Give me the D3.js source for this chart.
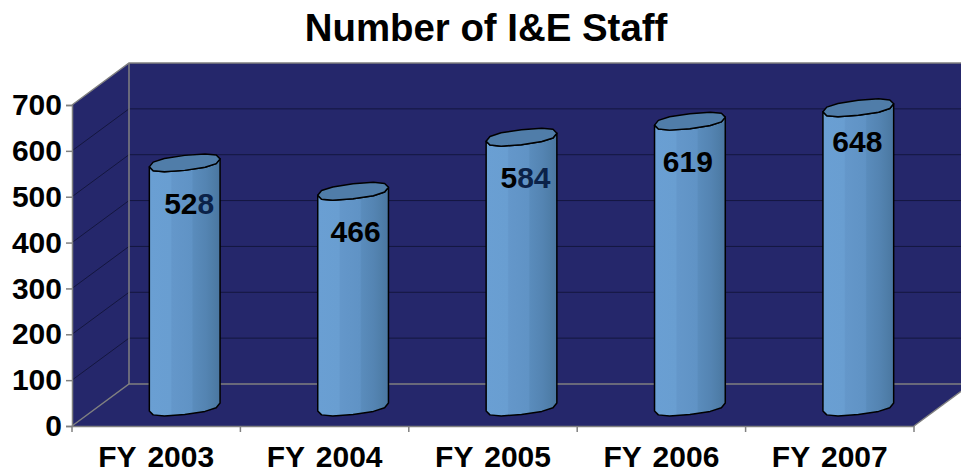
<!DOCTYPE html>
<html>
<head>
<meta charset="utf-8">
<script src="https://cdn.jsdelivr.net/npm/d3@7"></script>
<style>
  html, body { margin: 0; padding: 0; background: #fff; overflow: hidden; }
  text { font-family: "Liberation Sans", Arial, sans-serif; font-weight: bold; fill: #000; }
</style>
</head>
<body>
<svg id="chart" width="961" height="472"></svg>
<script>
const years = [ "FY 2003", "FY 2004", "FY 2005", "FY 2006", "FY 2007" ];
const staff = [ 528, 466, 584, 619, 648 ];
const yTicks = [ 0, 100, 200, 300, 400, 500, 600, 700 ];

const titleText = "Number of I&E Staff";

const wallColor = "#25276b";
const gridColor = "#14163f";
const edgeColor = "#808080";
const depthX = 57, depthY = -42;

// Labels do not sit at the same spot on every cylinder, some digits are tinted
const labelDx = [ 4.5, 2.5, 4, -2, -1 ];
const labelDy = [ 0, 0, 0, 0, -7 ];
const navyFrom = [ 2, 9, 1, 9, 9 ];

const svg = d3.select( "#chart" );

const x = d3.scaleBand().domain( years ).range( [ 72, 914 ] );
const y = d3.scaleLinear().domain( [ 0, 700 ] ).range( [ 426, 105 ] );

const x0 = x.range()[ 0 ], x1 = x.range()[ 1 ];
const y0 = y( 0 ), yTop = y( 700 );

// Gradient along the cylinder, in soft vertical bands
const defs = svg.append( "defs" );
const grad = defs.append( "linearGradient" ).attr( "id", "cyl" );
[ [ 0, "#6a9fd3" ], [ .3, "#699ed1" ], [ .32, "#6497ca" ], [ .6, "#6093c5" ], [ .62, "#5a8cbc" ], [ .8, "#5484b2" ], [ .9, "#4f7ea9" ], [ 1, "#4a76a0" ] ]
  .forEach( s => grad.append( "stop" ).attr( "offset", s[ 0 ] ).attr( "stop-color", s[ 1 ] ) );

// Walls and floor
const poly = pts => "M" + pts.map( p => p.join( "," ) ).join( "L" ) + "Z";

svg.append( "path" )
  .attr( "d", poly( [ [ x0, yTop ], [ x0 + depthX, yTop + depthY ], [ x1 + depthX, yTop + depthY ], [ x1 + depthX, y0 + depthY ], [ x1, y0 ], [ x0, y0 ] ] ) )
  .attr( "fill", wallColor );

// Gridlines on the back and side wall
const grid = svg.append( "g" );

grid.selectAll( "path.grid" )
  .data( yTicks.slice( 1, -1 ) )
  .enter().append( "path" )
    .attr( "class", "grid" )
    .attr( "d", d => "M" + x0 + "," + y( d ) + "L" + ( x0 + depthX ) + "," + ( y( d ) + depthY ) + "L" + ( x1 + depthX ) + "," + ( y( d ) + depthY ) )
    .attr( "fill", "none" )
    .attr( "stroke", gridColor )
    .attr( "stroke-width", 1 );

// Wall edges
const edges = [
  [ [ x0, yTop ], [ x0 + depthX, yTop + depthY ], [ x1 + depthX, yTop + depthY ] ],
  [ [ x0 + depthX, yTop + depthY ], [ x0 + depthX, y0 + depthY ] ],
  [ [ x0, y0 ], [ x0 + depthX, y0 + depthY ], [ x1 + depthX, y0 + depthY ] ],
  [ [ x1, y0 ], [ x1 + depthX, y0 + depthY ] ]
];

svg.selectAll( "path.edge" )
  .data( edges )
  .enter().append( "path" )
    .attr( "class", "edge" )
    .attr( "d", d => "M" + d.map( p => p.join( "," ) ).join( "L" ) )
    .attr( "fill", "none" )
    .attr( "stroke", edgeColor )
    .attr( "stroke-width", 1.5 );

// Axes
const yAxis = d3.axisLeft( y ).tickValues( yTicks ).tickSize( 6 ).tickPadding( 4 );
const xAxis = d3.axisBottom( x ).tickSize( 0 ).tickPadding( 20 );

const yG = svg.append( "g" ).attr( "transform", "translate(" + x0 + ",0)" ).call( yAxis );
const xG = svg.append( "g" ).attr( "transform", "translate(0," + y0 + ")" ).call( xAxis );

[ yG, xG ].forEach( g => {
  g.selectAll( "path,line" ).attr( "stroke", edgeColor ).attr( "stroke-width", 1.5 );
  g.selectAll( "text" )
    .style( "font-size", "30px" )
    .attr( "fill", "#000" );
} );

xG.selectAll( "text" ).style( "word-spacing", "3px" );

xG.selectAll( "path.sep" )
  .data( d3.range( 0, years.length + 1 ) )
  .enter().append( "path" )
    .attr( "class", "sep" )
    .attr( "d", i => "M" + ( x0 + i * x.step() ) + ",0V6" )
    .attr( "stroke", edgeColor )
    .attr( "stroke-width", 1.5 );

// Cylinders sit half way into the depth of the chart
const midX = depthX / 2, midY = depthY / 2;
const rx = x.bandwidth() * .21, ry = 7.5, slant = 4;

// Squarer than a true ellipse, the rims in the picture are fat at the ends
function rimPoint( cx, cy, t ) {
  const c = Math.cos( t ), s = Math.sin( t );
  const cp = Math.sign( c ) * Math.pow( Math.abs( c ), .8 );
  const sp = Math.sign( s ) * Math.pow( Math.abs( s ), .8 );
  return [ cx + rx * cp, cy + ry * sp - slant * cp ];
}

function rim( cx, cy, from, to, n ) {
  return d3.range( 0, n + 1 ).map( i => rimPoint( cx, cy, from + ( to - from ) * i / n ) );
}

const centerX = i => x( years[ i ] ) + x.bandwidth() / 2 + midX;
const line = d3.line();

const bars = svg.selectAll( "g.bar" )
  .data( staff )
  .enter().append( "g" )
    .attr( "class", "bar" );

bars.append( "path" )
  .attr( "d", ( d, i ) => {
    const top = rim( centerX( i ), y( d ) + midY, Math.PI, 0, 6 );
    const bottom = rim( centerX( i ), y0 + midY + 2, 0, Math.PI, 6 );
    return line( top.concat( bottom ) ) + "Z";
  } )
  .attr( "fill", "url(#cyl)" )
  .attr( "stroke", "#000" )
  .attr( "stroke-width", 1.5 )
  .attr( "stroke-linejoin", "round" );

bars.append( "path" )
  .attr( "d", ( d, i ) => line( rim( centerX( i ), y( d ) + midY, 0, 2 * Math.PI, 12 ) ) + "Z" )
  .attr( "fill", "#507da9" )
  .attr( "stroke", "#000" )
  .attr( "stroke-width", 1.5 )
  .attr( "stroke-linejoin", "round" );

// Value labels
bars.append( "text" )
  .attr( "x", ( d, i ) => centerX( i ) + labelDx[ i ] )
  .attr( "y", ( d, i ) => y( d ) + midY + 51 + labelDy[ i ] )
  .attr( "text-anchor", "middle" )
  .style( "font-size", "30px" )
  .each( function( d, i ) {
    d3.select( this ).selectAll( "tspan" )
      .data( String( d ).split( "" ) )
      .enter().append( "tspan" )
        .style( "fill", ( c, k ) => k >= navyFrom[ i ] ? "#0b2248" : "#000" )
        .text( c => c );
  } );

// Title
svg.append( "text" )
  .attr( "x", 486 )
  .attr( "y", 41 )
  .attr( "text-anchor", "middle" )
  .style( "font-size", "38.4px" )
  .text( titleText );
</script>
</body>
</html>
